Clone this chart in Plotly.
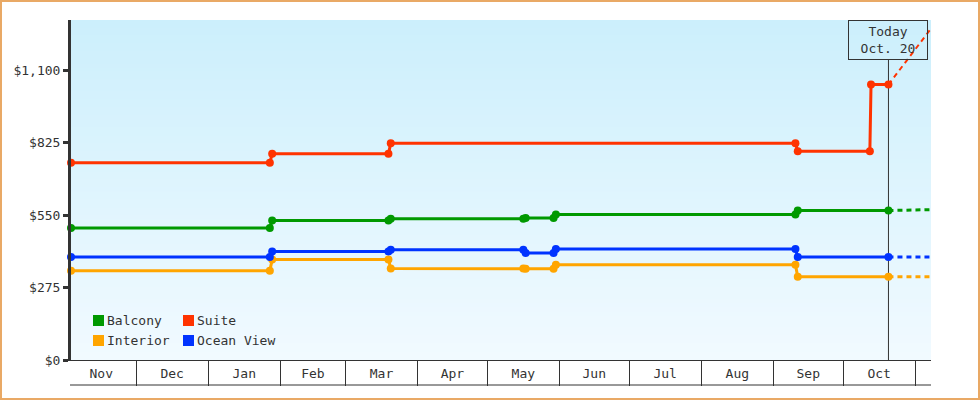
import plotly.graph_objects as go

FONT = "DejaVu Sans Mono"
INK = "#333333"

# ---------------- data ----------------
SERIES_NAMES = ["Balcony", "Suite", "Interior", "Ocean View"]
SERIES_COLORS = ["#009900", "#FF3300", "#FFA500", "#0033FF"]

BALCONY_DATES = ["2012-11-03", "2013-01-27 12:00", "2013-01-28 12:00", "2013-03-19 12:00",
                 "2013-03-20 12:00", "2013-05-16 12:00", "2013-05-17 12:00", "2013-05-29 12:00",
                 "2013-05-30 12:00", "2013-09-10 12:00", "2013-09-11 12:00", "2013-10-20 12:00"]
BALCONY_PRICES = [501, 501, 529, 529, 536, 536, 539, 539, 552, 552, 567, 567]

SUITE_DATES = ["2012-11-03", "2013-01-27 12:00", "2013-01-28 12:00", "2013-03-19 12:00",
               "2013-03-20 12:00", "2013-09-10 12:00", "2013-09-11 12:00", "2013-10-12 12:00",
               "2013-10-13 00:00", "2013-10-20 12:00"]
SUITE_PRICES = [748, 748, 783, 783, 822, 822, 792, 792, 1045, 1045]

INTERIOR_DATES = BALCONY_DATES
INTERIOR_PRICES = [339, 339, 381, 381, 347, 347, 346, 346, 361, 361, 316, 316]

OCEAN_DATES = BALCONY_DATES
OCEAN_PRICES = [391, 391, 412, 412, 418, 418, 406, 406, 421, 421, 391, 391]

TODAY = "2013-10-20 12:00"
TODAY_LABEL = "Today<br>Oct. 20"
FORECAST_END = "2013-11-10"
FORECAST_END_PRICES = [571, 1283, 316, 391]

Y_TICK_VALUES = [0, 275, 550, 825, 1100]
Y_TICK_LABELS = ["$0", "$275", "$550", "$825", "$1,100"]
X_RANGE = ["2012-11-03", "2013-11-07 19:00"]
Y_RANGE = [0, 1290]

SERIES_DATES = [BALCONY_DATES, SUITE_DATES, INTERIOR_DATES, OCEAN_DATES]
SERIES_PRICES = [BALCONY_PRICES, SUITE_PRICES, INTERIOR_PRICES, OCEAN_PRICES]

# ---------------- figure ----------------
W, H = 980, 400
ML, MR, MT, MB = 71, 49, 20, 40
PW, PH = W - ML - MR, H - MT - MB


def px_x(px):
    return (px - ML) / PW


def px_y(py):
    return (H - MB - py) / PH


fig = go.Figure()

# forecast (dashed) segments
for name, color, dates, prices, end in zip(SERIES_NAMES, SERIES_COLORS, SERIES_DATES,
                                           SERIES_PRICES, FORECAST_END_PRICES):
    fig.add_trace(go.Scatter(
        x=[dates[-1], FORECAST_END], y=[prices[-1], end],
        mode="lines", showlegend=False, hoverinfo="skip",
        line=dict(color=color, width=2 if name == "Suite" else 3, dash="5px,4px"),
    ))

# price histories
for name, color, dates, prices in zip(SERIES_NAMES, SERIES_COLORS, SERIES_DATES, SERIES_PRICES):
    fig.add_trace(go.Scatter(
        x=dates, y=prices, name=name, mode="lines+markers", showlegend=False,
        line=dict(color=color, width=3),
        marker=dict(color=color, size=8, symbol="circle"),
        cliponaxis=False,
        hovertemplate="%{x|%b %d}: $%{y:,}<extra>" + name + "</extra>",
    ))

shapes = []
# vertical gradient background
top = (204, 239, 252)
bot = (241, 250, 255)
N = 85
for i in range(N):
    t = i / (N - 1)
    c = tuple(round(top[k] + (bot[k] - top[k]) * t) for k in range(3))
    shapes.append(dict(type="rect", xref="paper", yref="paper", layer="below",
                       x0=0, x1=1, y0=max(0, 1 - (i + 1) / N), y1=min(1, 1 - i / N + 0.002),
                       fillcolor="rgb(%d,%d,%d)" % c, line=dict(width=0)))
# today line
shapes.append(dict(type="line", xref="x", yref="paper", layer="below",
                   x0=TODAY, x1=TODAY, y0=0, y1=px_y(60),
                   line=dict(color=INK, width=1)))
# bottom line of month strip
shapes.append(dict(type="line", xref="paper", yref="paper", x0=px_x(70), x1=1,
                   y0=px_y(385), y1=px_y(385), line=dict(color=INK, width=1)))
# outer frame
shapes.append(dict(type="rect", xref="paper", yref="paper",
                   x0=px_x(1), x1=px_x(979), y0=px_y(399), y1=px_y(1),
                   line=dict(color="#E9A965", width=2), fillcolor="rgba(0,0,0,0)"))

annotations = [dict(x=TODAY, xref="x", y=1, yref="paper", yanchor="top", xanchor="center",
                    text=TODAY_LABEL, showarrow=False,
                    font=dict(family=FONT, size=13, color=INK),
                    bordercolor=INK, borderwidth=1, borderpad=3,
                    bgcolor="rgba(0,0,0,0)", width=72, height=32)]

# legend (2 x 2 grid, bottom-left inside plot)
legend_pos = {"Balcony": (93, 315), "Suite": (183, 315),
              "Interior": (93, 335), "Ocean View": (183, 335)}
for name, color in zip(SERIES_NAMES, SERIES_COLORS):
    lx, ly = legend_pos[name]
    shapes.append(dict(type="rect", xref="paper", yref="paper",
                       x0=px_x(lx), x1=px_x(lx + 11), y0=px_y(ly + 11), y1=px_y(ly),
                       fillcolor=color, line=dict(width=0)))
    annotations.append(dict(x=px_x(lx + 13), xref="paper", y=px_y(ly + 5.5), yref="paper",
                            xanchor="left", yanchor="middle", text=name, showarrow=False,
                            borderpad=0,
                            font=dict(family=FONT, size=13, color=INK)))

fig.update_layout(
    width=W, height=H, autosize=False,
    margin=dict(l=ML, r=MR, t=MT, b=MB, pad=0),
    paper_bgcolor="white", plot_bgcolor="#E0F6FD",
    font=dict(family=FONT, size=13, color=INK),
    showlegend=False,
    shapes=shapes, annotations=annotations,
    xaxis=dict(type="date", range=X_RANGE, tick0="2012-11-01", dtick="M1",
               tickformat="%b", ticklabelmode="period",
               ticks="outside", ticklen=25, tickwidth=1, tickcolor=INK,
               ticklabelstandoff=-24,
               showline=True, linecolor=INK, linewidth=1,
               showgrid=False, zeroline=False,
               tickfont=dict(family=FONT, size=13, color=INK)),
    yaxis=dict(range=Y_RANGE, tickvals=Y_TICK_VALUES, ticktext=Y_TICK_LABELS,
               ticks="outside", ticklen=5, tickwidth=3, tickcolor=INK,
               showline=True, linecolor=INK, linewidth=3,
               showgrid=False, zeroline=False,
               tickfont=dict(family=FONT, size=13, color=INK)),
)

fig.write_html("out.html", config={"displayModeBar": False},
               post_script="document.body.style.margin='0';document.body.style.padding='0';")
